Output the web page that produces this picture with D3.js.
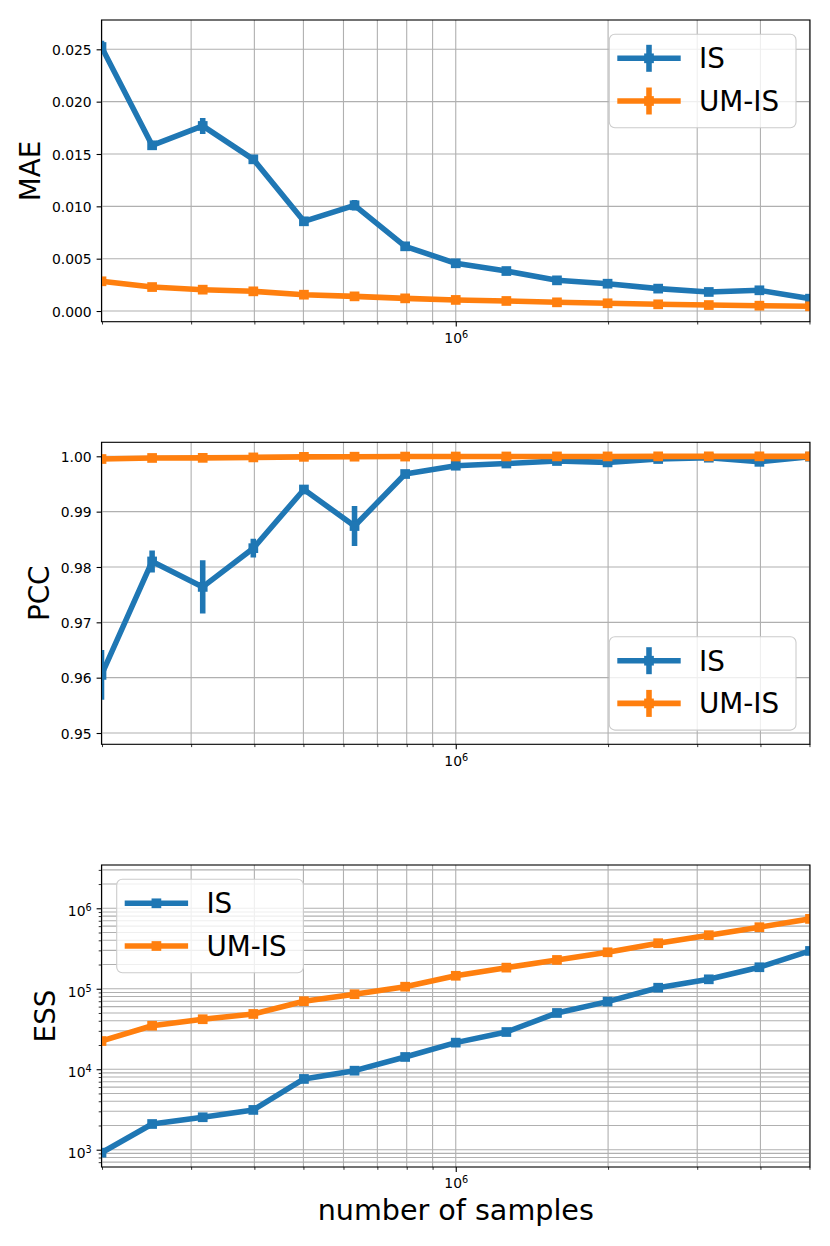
<!DOCTYPE html>
<html><head><meta charset="utf-8">
<script src="https://cdnjs.cloudflare.com/ajax/libs/d3/7.8.5/d3.min.js"></script>
<style>body{margin:0;background:#fff} svg{display:block} text{font-family:"DejaVu Sans",sans-serif;fill:#000}</style>
</head><body><svg id="c" width="830" height="1246"></svg>
<script>
// ---- data ----
const samples = [199526, 251189, 316228, 398107, 501187, 630957, 794328, 1000000, 1258925, 1584893, 1995262, 2511886, 3162278, 3981072, 5011872];
const seriesNames = ["IS", "UM-IS"];
const maeIS = [0.02522, 0.01583, 0.01768, 0.01449, 0.00857, 0.01010, 0.00618, 0.00456, 0.00382, 0.00293, 0.00261, 0.00214, 0.00182, 0.00198, 0.00118];
const maeISErr = [0.0006, 0.0002, 0.00076, 0.0002, 0.0002, 0.0005, 0.0002, 0.0002, 0.0001, 0.0001, 0.0001, 0.0001, 0.0001, 0.0001, 0.0001];
const maeUM = [0.00284, 0.00229, 0.00204, 0.00188, 0.00156, 0.00140, 0.00121, 0.00106, 0.00096, 0.00083, 0.00074, 0.00064, 0.00057, 0.00051, 0.00045];
const maeUMErr = [0.00005, 0.00005, 0.00005, 0.00005, 0.00005, 0.00005, 0.00005, 0.00005, 0.00005, 0.00005, 0.00005, 0.00005, 0.00005, 0.00005, 0.00005];
const pccIS = [0.9605, 0.9810, 0.9764, 0.9834, 0.9940, 0.9874, 0.9968, 0.9983, 0.9987, 0.99915, 0.9989, 0.99951, 0.99975, 0.9990, 0.99993];
const pccISErr = [0.0045, 0.0020, 0.0048, 0.0017, 0.0008, 0.0036, 0.0007, 0.0004, 0.0003, 0.0003, 0.0003, 0.0002, 0.0002, 0.0003, 0.0001];
const pccUM = [0.99951, 0.99970, 0.99972, 0.99980, 0.99990, 0.99993, 0.99995, 0.99996, 0.99997, 0.99998, 0.99998, 0.99999, 0.99999, 0.99999, 0.99999];
const pccUMErr = [0.0001, 0.0001, 0.0001, 0.0001, 0.0001, 0.0001, 0.0001, 0.0001, 0.0001, 0.0001, 0.0001, 0.0001, 0.0001, 0.0001, 0.0001];
const essIS = [918, 2086, 2530, 3120, 7570, 9590, 14200, 21400, 29000, 50000, 69200, 103000, 131000, 185000, 295000];
const essUM = [22400, 34700, 41800, 48600, 70000, 85500, 106000, 145000, 183000, 228000, 284000, 368000, 463000, 582000, 738000];
const maeTicks = [0, 0.005, 0.010, 0.015, 0.020, 0.025];
const pccTicks = [0.95, 0.96, 0.97, 0.98, 0.99, 1.00];
const essTicks = [1e3, 1e4, 1e5, 1e6];
const xMajorTicks = [1e6];
const xMinorTicks = [2e5, 3e5, 4e5, 5e5, 6e5, 7e5, 8e5, 9e5, 2e6, 3e6, 4e6, 5e6];
const colors = ["#1f77b4", "#ff7f0e"];

// ---- layout ----
const svg = d3.select("#c");
const L = 101.5, R = 810;
const LW = 5.56, MS = 9.7, FS = 27.8, TFS = 13.9;
const x = d3.scaleLog().domain([samples[0], samples[samples.length - 1]]).range([L, R]);

function essMinor(dom) {
  const out = [];
  for (let e = 2; e <= 6; e++) for (let m = 2; m <= 9; m++) {
    const v = m * Math.pow(10, e);
    if (v > dom[0] && v < dom[1]) out.push(v);
  }
  return out;
}

function sup(sel, exp) {
  sel.text(null);
  sel.append("tspan").text("10");
  sel.append("tspan").attr("font-size", 9.7).attr("dy", -5).text(exp);
}

function panel(cfg, idx) {
  const y = cfg.y;
  const [yb, yt] = y.range();
  const g = svg.append("g");
  const clipId = "clip" + idx;
  svg.append("clipPath").attr("id", clipId).append("rect")
    .attr("x", L).attr("y", yt).attr("width", R - L).attr("height", yb - yt);

  // grid
  const grid = g.append("g").attr("stroke", "#b0b0b0").attr("stroke-width", 1.1);
  xMajorTicks.concat(xMinorTicks).forEach(v => {
    grid.append("line").attr("x1", x(v)).attr("x2", x(v)).attr("y1", yt).attr("y2", yb);
  });
  cfg.yTicks.concat(cfg.yMinor || []).forEach(v => {
    grid.append("line").attr("x1", L).attr("x2", R).attr("y1", y(v)).attr("y2", y(v));
  });

  // data
  const data = g.append("g").attr("clip-path", `url(#${clipId})`);
  cfg.series.forEach((s, si) => {
    const col = colors[si];
    if (s.err) {
      data.append("g").selectAll("line").data(s.vals).join("line")
        .attr("x1", (d, i) => x(samples[i])).attr("x2", (d, i) => x(samples[i]))
        .attr("y1", (d, i) => y(d - s.err[i])).attr("y2", (d, i) => y(d + s.err[i]))
        .attr("stroke", col).attr("stroke-width", LW);
    }
    const line = d3.line().x((d, i) => x(samples[i])).y(d => y(d));
    data.append("path").datum(s.vals).attr("d", line).attr("fill", "none")
      .attr("stroke", col).attr("stroke-width", LW).attr("stroke-linejoin", "round").attr("stroke-linecap", "square");
    data.append("g").selectAll("rect").data(s.vals).join("rect")
      .attr("x", (d, i) => x(samples[i]) - MS / 2).attr("y", d => y(d) - MS / 2)
      .attr("width", MS).attr("height", MS).attr("fill", col);
  });

  // axes
  const xAxis = d3.axisBottom(x).tickValues(xMajorTicks).tickSize(4.9).tickPadding(0).tickFormat(() => "");
  const xa = g.append("g").attr("transform", `translate(0,${yb})`).call(xAxis);
  xa.select(".domain").remove();
  xa.selectAll(".tick line").attr("stroke-width", 1.1);
  xa.selectAll(".tick text").attr("font-size", TFS).attr("y", 21.3).attr("dy", 0)
    .attr("font-family", "DejaVu Sans").each(function () { sup(d3.select(this), "6"); });
  const xMinAxis = d3.axisBottom(x).tickValues(xMinorTicks).tickSize(2.8).tickFormat(() => "");
  const xm = g.append("g").attr("transform", `translate(0,${yb})`).call(xMinAxis);
  xm.select(".domain").remove();
  xm.selectAll(".tick line").attr("stroke-width", 0.8);

  const yAxis = d3.axisLeft(y).tickValues(cfg.yTicks).tickSize(4.9).tickPadding(4.9)
    .tickFormat(cfg.fmt || (() => ""));
  const ya = g.append("g").attr("transform", `translate(${L},0)`).call(yAxis);
  ya.select(".domain").remove();
  ya.selectAll(".tick line").attr("stroke-width", 1.1);
  ya.selectAll(".tick text").attr("font-size", TFS).attr("font-family", "DejaVu Sans")
    .attr("dy", 0).attr("y", cfg.log ? 7.7 : 5.3);
  if (cfg.log) {
    ya.selectAll(".tick text").each(function (d) { sup(d3.select(this), String(Math.round(Math.log10(d)))); });
  }
  if (cfg.yMinor) {
    const ym = g.append("g").attr("transform", `translate(${L},0)`)
      .call(d3.axisLeft(y).tickValues(cfg.yMinor).tickSize(2.8).tickFormat(() => ""));
    ym.select(".domain").remove();
    ym.selectAll(".tick line").attr("stroke-width", 0.8);
  }

  // frame
  g.append("rect").attr("x", L).attr("y", yt).attr("width", R - L).attr("height", yb - yt)
    .attr("fill", "none").attr("stroke", "#000").attr("stroke-width", 1.1);

  // y label
  g.append("text").attr("transform", `translate(${cfg.labelX},${(yt + yb) / 2}) rotate(-90)`)
    .attr("text-anchor", "middle").attr("font-size", FS).text(cfg.label);

  // legend
  const lg = g.append("g").attr("transform", `translate(${cfg.legend[0]},${cfg.legend[1]})`);
  lg.append("rect").attr("width", 186.7).attr("height", 93.4).attr("rx", 5.6)
    .attr("fill", "#fff").attr("fill-opacity", 0.8).attr("stroke", "#cccccc").attr("stroke-width", 1.1);
  seriesNames.forEach((nm, si) => {
    const cy = 24 + si * 42.7, col = colors[si];
    lg.append("line").attr("x1", 8).attr("x2", 71.4).attr("y1", cy).attr("y2", cy)
      .attr("stroke", col).attr("stroke-width", LW);
    if (cfg.series[si].err) {
      lg.append("line").attr("x1", 39.7).attr("x2", 39.7).attr("y1", cy - 13.5).attr("y2", cy + 13.5)
        .attr("stroke", col).attr("stroke-width", LW);
    }
    lg.append("rect").attr("x", 39.7 - MS / 2).attr("y", cy - MS / 2).attr("width", MS).attr("height", MS).attr("fill", col);
    lg.append("text").attr("x", 89.7).attr("y", cy + 10.1).attr("font-size", FS).text(nm);
  });
}

panel({
  y: d3.scaleLinear().domain([-0.00102, 0.02780]).range([321.7, 20]),
  yTicks: maeTicks, fmt: d3.format(".3f"), label: "MAE", labelX: 40,
  series: [{ vals: maeIS, err: maeISErr }, { vals: maeUM, err: maeUMErr }],
  legend: [609.3, 34.3]
}, 0);

panel({
  y: d3.scaleLinear().domain([0.94796, 1.00253]).range([744.3, 442.3]),
  yTicks: pccTicks, fmt: d3.format(".2f"), label: "PCC", labelX: 48.7,
  series: [{ vals: pccIS, err: pccISErr }, { vals: pccUM, err: pccUMErr }],
  legend: [609.3, 636.7]
}, 1);

const essDom = [609.5, 3.45e6];
panel({
  y: d3.scaleLog().domain(essDom).range([1167, 865]),
  yTicks: essTicks, yMinor: essMinor(essDom), log: true, label: "ESS", labelX: 54.7,
  series: [{ vals: essIS }, { vals: essUM }],
  legend: [116.7, 879.3]
}, 2);

svg.append("text").attr("x", (L + R) / 2).attr("y", 1220).attr("text-anchor", "middle")
  .attr("font-size", 28.6).text("number of samples");
</script>
</body></html>
